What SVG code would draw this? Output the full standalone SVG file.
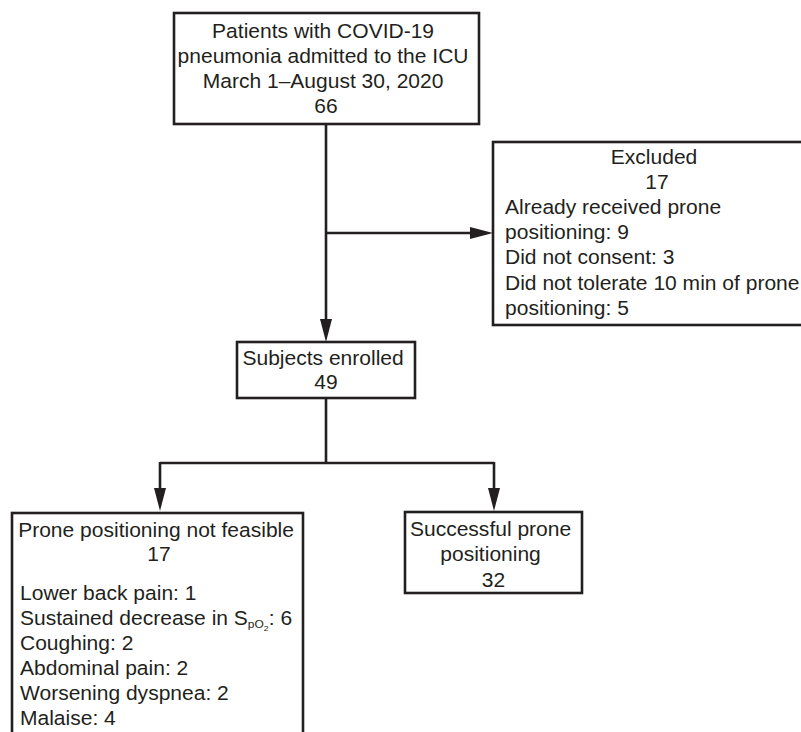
<svg xmlns="http://www.w3.org/2000/svg" width="801" height="732" viewBox="0 0 801 732">
<defs>
<style>
.box{fill:#fff;stroke:#231f20;stroke-width:2.6}
.conn{fill:none;stroke:#231f20;stroke-width:2.6}
text{font-family:"Liberation Sans",Arial,sans-serif;font-size:19.3px;fill:#231f20}
.c{text-anchor:middle}
</style>
<marker id="ah" markerUnits="userSpaceOnUse" markerWidth="23" markerHeight="13" refX="1" refY="6.5" orient="auto">
<path d="M0,0.5 L23,6.5 L0,12.5 z" fill="#231f20"/>
</marker>
</defs>
<rect width="801" height="732" fill="#fff"/>
<g id="connectors">
<path class="conn" d="M326,124 V320" marker-end="url(#ah)"/>
<path class="conn" d="M326,233 H471" marker-end="url(#ah)"/>
<path class="conn" d="M326,398 V463"/>
<path class="conn" d="M160,463 H494"/>
<path class="conn" d="M160,462 V489" marker-end="url(#ah)"/>
<path class="conn" d="M494,462 V489" marker-end="url(#ah)"/>
</g>
<g id="admitted">
<rect class="box" x="174" y="13" width="305" height="111"/>
<text class="c" transform="scale(1.09 1)">
<tspan x="299.08" y="38.5">Patients with COVID-19</tspan>
<tspan x="299.08" y="63.5">pneumonia admitted to the ICU</tspan>
<tspan x="299.08" y="88.5">March 1–August 30, 2020</tspan>
<tspan x="299.08" y="113.5">66</tspan>
</text>
</g>
<g id="excluded">
<rect class="box" x="493" y="142" width="330" height="183"/>
<text class="c" transform="scale(1.09 1)">
<tspan x="602.75" y="164">Excluded</tspan>
<tspan x="602.75" y="189">17</tspan>
</text>
<text transform="scale(1.09 1)">
<tspan x="463.3" y="214">Already received prone</tspan>
<tspan x="463.3" y="239.5">positioning: 9</tspan>
<tspan x="463.3" y="264.5">Did not consent: 3</tspan>
<tspan x="463.3" y="290">Did not tolerate 10 min of prone</tspan>
<tspan x="463.3" y="315">positioning: 5</tspan>
</text>
</g>
<g id="enrolled">
<rect class="box" x="237" y="342" width="178" height="56"/>
<text class="c" transform="scale(1.09 1)">
<tspan x="299.08" y="365">Subjects enrolled</tspan>
<tspan x="299.08" y="389">49</tspan>
</text>
</g>
<g id="notfeasible">
<rect class="box" x="12" y="513" width="291" height="240"/>
<text class="c" transform="scale(1.09 1)">
<tspan x="145.87" y="537">Prone positioning not feasible</tspan>
<tspan x="145.87" y="561">17</tspan>
</text>
<text transform="scale(1.09 1)">
<tspan x="18.35" y="600">Lower back pain: 1</tspan>
<tspan x="18.35" y="625">Sustained decrease in S<tspan font-size="11px" dy="3">pO</tspan><tspan font-size="8px" dy="3">2</tspan><tspan dy="-6">: 6</tspan></tspan>
<tspan x="18.35" y="650">Coughing: 2</tspan>
<tspan x="18.35" y="675">Abdominal pain: 2</tspan>
<tspan x="18.35" y="700">Worsening dyspnea: 2</tspan>
<tspan x="18.35" y="725">Malaise: 4</tspan>
</text>
</g>
<g id="successful">
<rect class="box" x="405" y="512" width="177" height="81"/>
<text class="c" transform="scale(1.09 1)">
<tspan x="452.75" y="536">Successful prone</tspan>
<tspan x="452.75" y="561">positioning</tspan>
<tspan x="452.75" y="587">32</tspan>
</text>
</g>
</svg>
